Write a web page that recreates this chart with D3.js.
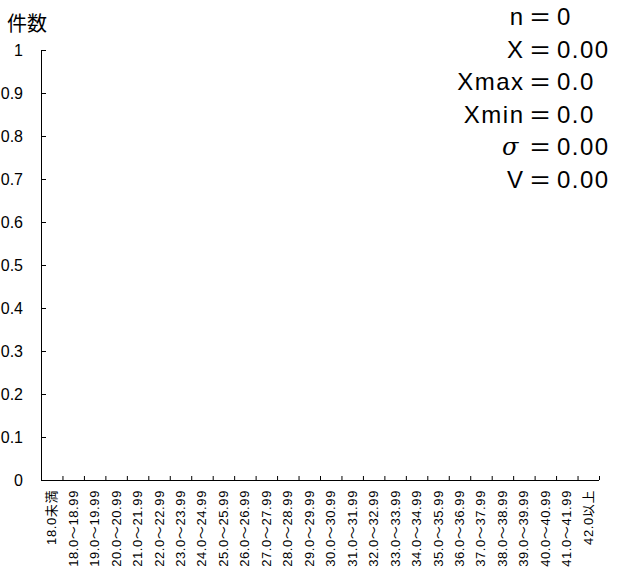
<!DOCTYPE html>
<html>
<head>
<meta charset="utf-8">
<script src="https://cdn.jsdelivr.net/npm/d3@7"></script>
<style>
html,body{margin:0;padding:0;background:#fff;}
svg{display:block;}
</style>
</head>
<body>
<svg id="chart" width="623" height="573"></svg>
<script>
// ---- data ----
const categories = ["18.0未満","18.0～18.99","19.0～19.99","20.0～20.99","21.0～21.99","22.0～22.99","23.0～23.99","24.0～24.99","25.0～25.99","26.0～26.99","27.0～27.99","28.0～28.99","29.0～29.99","30.0～30.99","31.0～31.99","32.0～32.99","33.0～33.99","34.0～34.99","35.0～35.99","36.0～36.99","37.0～37.99","38.0～38.99","39.0～39.99","40.0～40.99","41.0～41.99","42.0以上"];
const counts = categories.map(() => 0);
const yTickValues = [0,0.1,0.2,0.3,0.4,0.5,0.6,0.7,0.8,0.9,1];
const yTickLabels = ["0","0.1","0.2","0.3","0.4","0.5","0.6","0.7","0.8","0.9","1"];
const yTitle = "件数";
const statNames = ["n","X","Xmax","Xmin","σ","V"];
const statValues = ["0","0.00","0.0","0.0","0.00","0.00"];

// ---- layout ----
const svg = d3.select("#chart");
const mLeft = 41, mRight = 599, mTop = 50, mBottom = 480;
const x = d3.scaleBand().domain(categories).range([mLeft, mRight]).paddingInner(0).paddingOuter(0);
const xi = d3.scaleLinear().domain([0, categories.length]).range([mLeft, mRight]);
const y = d3.scaleLinear().domain([0, 1]).range([mBottom, mTop]);

const numFont = "'Liberation Sans', Arial, 'Noto Sans CJK JP', sans-serif";

// bars (all zero)
svg.append("g").selectAll("rect").data(counts).join("rect")
  .attr("x", (d,i) => x(categories[i]) + 3)
  .attr("width", x.bandwidth() - 6)
  .attr("y", d => y(d))
  .attr("height", d => mBottom - y(d))
  .attr("fill", "#4472c4");

// y axis
const yAxis = d3.axisLeft(y).tickValues(yTickValues)
  .tickFormat((d,i) => yTickLabels[i]).tickSizeInner(-5).tickSizeOuter(0).tickPadding(18);
const gy = svg.append("g").attr("transform", `translate(${mLeft},0)`).call(yAxis);
gy.select(".domain").attr("stroke", "#000").attr("d", `M0.5,${mTop}V${mBottom}`);
gy.selectAll(".tick line").attr("stroke", "#000").attr("x1", 0.5);
gy.selectAll(".tick text").attr("font-family", numFont).attr("font-size", 16).attr("fill", "#000");

// x axis ticks at band boundaries
const xAxis = d3.axisBottom(xi).tickValues(d3.range(1, categories.length + 1))
  .tickFormat("").tickSizeInner(-4).tickSizeOuter(0);
const gx = svg.append("g").attr("transform", `translate(0,${mBottom})`).call(xAxis);
gx.select(".domain").attr("stroke", "#000").attr("d", `M${mLeft},0.5H${mRight}`);
gx.selectAll(".tick line").attr("stroke", "#000");

// x labels
svg.append("g").selectAll("text").data(categories).join("text")
  .attr("transform", d => `translate(${x(d) + x.bandwidth()/2 + 4.5},490) rotate(-90)`)
  .attr("text-anchor", "end")
  .attr("font-family", numFont)
  .attr("font-size", 13)
  .attr("letter-spacing", 0.6)
  .attr("fill", "#000")
  .text(d => d);

// y title
svg.append("text").attr("x", 27).attr("y", 31).attr("text-anchor", "middle")
  .attr("font-family", "'Noto Sans CJK JP', sans-serif").attr("font-size", 20)
  .attr("fill", "#000").text(yTitle);

// stats block: names right-aligned, "=" column, values left-aligned
const nameX = 523, eqX = 540, valX = 557;
const baselines0 = 25, lineGap = 32.6;
const gs = svg.append("g").attr("font-family", numFont).attr("font-size", 24)
  .attr("letter-spacing", 1.5).attr("fill", "#000");
statNames.forEach((name, i) => {
  const by = baselines0 + i * lineGap;
  const t = gs.append("text").attr("x", nameX + 1.5).attr("y", by).attr("text-anchor", "end").text(name);
  if (name === "σ") t.attr("font-style", "italic").attr("font-family", "'DejaVu Serif', serif").attr("x", nameX - 3);
  gs.append("text").attr("transform", `translate(${eqX},${by}) scale(1.4,1)`)
    .attr("text-anchor", "middle").attr("letter-spacing", 0).text("=");
  gs.append("text").attr("x", valX).attr("y", by).attr("text-anchor", "start").text(statValues[i]);
});
</script>
</body>
</html>
